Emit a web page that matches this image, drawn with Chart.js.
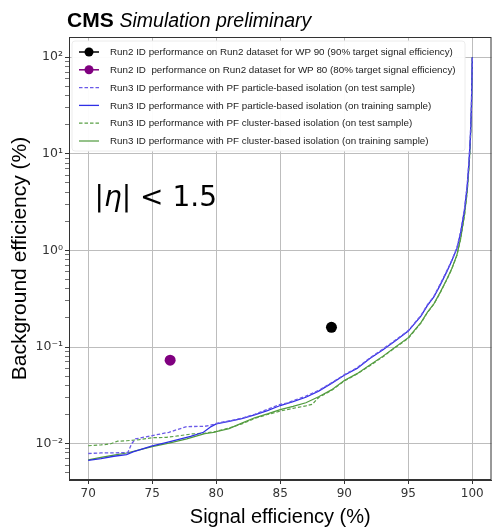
<!DOCTYPE html>
<html>
<head>
<meta charset="utf-8">
<script src="https://cdn.jsdelivr.net/npm/chart.js@4"></script>
<style>
  html, body { margin: 0; padding: 0; background: #fff; }
  #wrap { width: 497px; height: 529px; }
</style>
</head>
<body>
<div id="wrap"><canvas id="roc" width="497" height="529"></canvas></div>
<script>
// Run3 ID, PF particle-based isolation, training sample
const partTrainX = [70, 71, 72, 73, 73.5, 74, 75, 76, 77, 78, 79, 79.6, 80, 81, 82, 83, 84, 85, 86, 87, 88, 89, 90, 91, 92, 93, 94, 95, 96, 96.5, 97, 97.5, 98, 98.4, 98.8, 99.1, 99.4, 99.6, 99.75, 99.85, 99.93, 100];
const partTrainY = [0.0067, 0.0070, 0.0074, 0.0077, 0.0082, 0.0086, 0.0095, 0.0102, 0.0110, 0.0119, 0.0131, 0.0150, 0.0160, 0.0170, 0.0181, 0.0198, 0.0220, 0.0248, 0.0272, 0.0302, 0.0350, 0.0420, 0.0510, 0.0600, 0.0760, 0.0930, 0.1160, 0.1460, 0.2100, 0.2700, 0.3300, 0.4400, 0.6000, 0.7800, 1.05, 1.55, 2.7, 4.6, 8.5, 15, 30, 100];

// Run3 ID, PF particle-based isolation, test sample
const partTestX = [70, 71, 72, 73.1, 73.4, 73.7, 75, 76.3, 77.7, 79.1, 79.8, 80, 81, 82, 83, 84, 85, 85.5, 86, 87, 88, 89, 90, 91, 92, 93, 94, 95, 96, 96.5, 97, 97.5, 98, 98.4, 98.8, 99.1, 99.4, 99.6, 99.75, 99.85, 99.93, 100];
const partTestY = [0.0079, 0.0080, 0.0080, 0.0081, 0.0100, 0.0112, 0.0121, 0.0131, 0.0150, 0.0151, 0.0158, 0.0162, 0.0172, 0.0183, 0.0201, 0.0226, 0.0255, 0.0262, 0.0278, 0.0310, 0.0355, 0.0425, 0.0515, 0.0610, 0.0770, 0.0950, 0.1180, 0.1480, 0.2130, 0.2750, 0.3350, 0.4500, 0.6100, 0.7900, 1.07, 1.58, 2.75, 4.7, 8.7, 15.3, 30.5, 100];

// Run3 ID, PF cluster-based isolation, training sample
const clusTrainX = [70, 71, 72, 73, 74, 75, 76.3, 77.7, 79.1, 79.9, 80, 81, 82, 83, 84, 85, 86, 87, 88, 89, 90, 91, 92, 93, 94, 95, 96, 96.5, 97, 97.5, 98, 98.4, 98.8, 99.1, 99.4, 99.6, 99.75, 99.85, 99.93, 100];
const clusTrainY = [0.0068, 0.0072, 0.0076, 0.0080, 0.0086, 0.0093, 0.0101, 0.0112, 0.0127, 0.0131, 0.0133, 0.0143, 0.0163, 0.0185, 0.0203, 0.0225, 0.0243, 0.0265, 0.0305, 0.0360, 0.0450, 0.0530, 0.0650, 0.0800, 0.1000, 0.1250, 0.1800, 0.2300, 0.2800, 0.3700, 0.5000, 0.6500, 0.90, 1.35, 2.4, 4.1, 7.6, 13.5, 27, 100];

// Run3 ID, PF cluster-based isolation, test sample
const clusTestX = [70, 71, 71.7, 72.3, 73, 74, 75, 76.1, 77, 78.1, 79.1, 80, 81, 82, 83, 84, 85, 86, 87, 87.5, 88, 89, 90, 91, 92, 93, 94, 95, 96, 96.5, 97, 97.5, 98, 98.4, 98.8, 99.1, 99.4, 99.6, 99.75, 99.85, 99.93, 100];
const clusTestY = [0.0095, 0.0097, 0.0099, 0.0106, 0.0107, 0.0110, 0.0115, 0.0116, 0.0120, 0.0126, 0.0128, 0.0134, 0.0145, 0.0160, 0.0182, 0.0200, 0.0217, 0.0232, 0.0246, 0.0255, 0.0300, 0.0355, 0.0445, 0.0525, 0.0640, 0.0790, 0.0990, 0.1230, 0.1780, 0.2280, 0.2780, 0.3650, 0.4950, 0.6400, 0.89, 1.33, 2.35, 4.0, 7.5, 13.3, 26.5, 100];

// Run2 working points
const wp90X = [89.0];
const wp90Y = [0.16];
const wp80X = [76.4];
const wp80Y = [0.073];

// axes
const xTicks = [70, 75, 80, 85, 90, 95, 100];
const yMajor = [0.01, 0.1, 1, 10, 100];
const yMajorLabels = ['10\u207B\u00B2', '10\u207B\u00B9', '10\u2070', '10\u00B9', '10\u00B2'];
const xMin = 68.5, xMax = 101.5;
const yMin = 0.0042, yMax = 162;

const labels = [
  'Run2 ID performance on Run2 dataset for WP 90 (90% target signal efficiency)',
  'Run2 ID  performance on Run2 dataset for WP 80 (80% target signal efficiency)',
  'Run3 ID performance with PF particle-based isolation (on test sample)',
  'Run3 ID performance with PF particle-based isolation (on training sample)',
  'Run3 ID performance with PF cluster-based isolation (on test sample)',
  'Run3 ID performance with PF cluster-based isolation (on training sample)'
];

function pts(xs, ys) {
  return xs.map((x, i) => ({ x: x, y: ys[i] }));
}

// y ticks: decades plus minor 2..9 marks
const yTicks = [];
for (let e = -3; e <= 2; e++) {
  for (let m = 1; m <= 9; m++) {
    const v = +(m * Math.pow(10, e)).toPrecision(3);
    if (v >= yMin && v <= yMax) yTicks.push(v);
  }
}
function isMajor(v) {
  return yMajor.some((d) => Math.abs(v / d - 1) < 1e-6);
}

const GRID = '#bdbdbd';
const AXIS = '#333';
const FONT = '"Liberation Sans", Arial, Helvetica, sans-serif';

const frame = {
  id: 'frame',
  afterDatasetsDraw(chart) {
    const ctx = chart.ctx;
    const a = chart.chartArea;
    const x = chart.scales.x, y = chart.scales.y;
    ctx.save();

    // eta annotation
    let px = x.getPixelForValue(70.5);
    const py = y.getPixelForValue(3.4);
    ctx.fillStyle = '#000';
    ctx.textBaseline = 'middle';
    ctx.textAlign = 'left';
    const parts = [['|', ''], ['\u03B7', 'italic '], ['| < 1.5', '']];
    parts.forEach((p) => {
      ctx.font = p[1] + '28px "DejaVu Sans"';
      ctx.fillText(p[0], px, py);
      px += ctx.measureText(p[0]).width;
    });

    // legend box
    const lx = a.left + 3, ly = a.top + 4, lw = 393, lh = 110;
    ctx.fillStyle = 'rgba(255,255,255,0.95)';
    ctx.strokeStyle = '#ececec';
    ctx.lineWidth = 1;
    ctx.beginPath();
    ctx.roundRect(lx, ly, lw, lh, 3);
    ctx.fill();
    ctx.stroke();

    ctx.font = '9.8px ' + FONT;
    chart.data.datasets.forEach((ds, i) => {
      const cy = a.top + 15 + i * 17.8;
      ctx.strokeStyle = ds.borderColor;
      ctx.lineWidth = ds.borderWidth;
      ctx.setLineDash(ds.borderDash || []);
      ctx.beginPath();
      ctx.moveTo(a.left + 10, cy);
      ctx.lineTo(a.left + 30, cy);
      ctx.stroke();
      ctx.setLineDash([]);
      if (ds.pointRadius > 0) {
        ctx.fillStyle = ds.pointBackgroundColor;
        ctx.beginPath();
        ctx.arc(a.left + 20, cy, 4.5, 0, Math.PI * 2);
        ctx.fill();
      }
      ctx.fillStyle = '#222';
      ctx.fillText(ds.label, a.left + 41, cy + 0.5);
    });
    ctx.restore();
  },
  afterDraw(chart) {
    const ctx = chart.ctx;
    const a = chart.chartArea;
    ctx.save();
    ctx.strokeStyle = AXIS;
    ctx.lineWidth = 1;
    ctx.strokeRect(a.left + 0.5, a.top + 0.5, a.right - a.left - 1, a.bottom - a.top - 1);

    // header
    ctx.fillStyle = '#000';
    ctx.textBaseline = 'alphabetic';
    ctx.textAlign = 'left';
    ctx.font = 'bold 21px ' + FONT;
    ctx.fillText('CMS', 67, 27);
    const w = ctx.measureText('CMS ').width;
    ctx.font = 'italic 19.5px ' + FONT;
    ctx.fillText('Simulation preliminary', 67 + w, 27);
    ctx.restore();
  }
};

const datasets = [
  { label: labels[0], data: pts(wp90X, wp90Y), showLine: false, borderColor: '#000', borderWidth: 1.5,
    pointRadius: 5.5, pointBackgroundColor: '#000', pointBorderWidth: 0 },
  { label: labels[1], data: pts(wp80X, wp80Y), showLine: false, borderColor: '#800080', borderWidth: 1.5,
    pointRadius: 5.5, pointBackgroundColor: '#800080', pointBorderWidth: 0 },
  { label: labels[2], data: pts(partTestX, partTestY), borderColor: '#6a5ae8', borderWidth: 1.3,
    borderDash: [3.5, 2], pointRadius: 0 },
  { label: labels[3], data: pts(partTrainX, partTrainY), borderColor: '#2f2fe6', borderWidth: 1.3,
    pointRadius: 0 },
  { label: labels[4], data: pts(clusTestX, clusTestY), borderColor: '#5aa046', borderWidth: 1.2,
    borderDash: [3.5, 2], pointRadius: 0 },
  { label: labels[5], data: pts(clusTrainX, clusTrainY), borderColor: '#4f9a3c', borderWidth: 1.2,
    pointRadius: 0 }
];

new Chart(document.getElementById('roc').getContext('2d'), {
  type: 'line',
  data: { datasets: datasets },
  options: {
    responsive: false,
    animation: false,
    events: [],
    layout: { padding: { top: 37, right: 1, bottom: 0, left: 0 } },
    elements: { line: { tension: 0, fill: false } },
    plugins: { legend: { display: false }, tooltip: { enabled: false } },
    scales: {
      x: {
        type: 'linear',
        min: xMin,
        max: xMax,
        afterBuildTicks: (s) => { s.ticks = xTicks.map((v) => ({ value: v })); },
        afterFit: (s) => { s.height = 49; },
        ticks: { color: AXIS, padding: 3, font: { family: '"DejaVu Sans"', size: 12 }, maxRotation: 0 },
        grid: { color: GRID, lineWidth: 1, borderDash: [1, 2], tickColor: AXIS, tickLength: 4 },
        border: { display: true, color: AXIS, width: 1 },
        title: { display: true, text: 'Signal efficiency (%)', color: '#000',
                 font: { family: FONT, size: 20 }, padding: { top: 0, bottom: 0 } }
      },
      y: {
        type: 'logarithmic',
        min: yMin,
        max: yMax,
        afterBuildTicks: (s) => { s.ticks = yTicks.map((v) => ({ value: v, major: isMajor(v) })); },
        afterFit: (s) => { s.width = 69; },
        ticks: {
          autoSkip: false,
          color: AXIS,
          padding: 2,
          font: { family: '"DejaVu Sans"', size: 12.5 },
          callback: (v) => {
            const i = yMajor.findIndex((d) => Math.abs(v / d - 1) < 1e-6);
            return i >= 0 ? yMajorLabels[i] : '';
          }
        },
        grid: {
          color: (c) => (c.tick && isMajor(c.tick.value) ? GRID : 'rgba(0,0,0,0)'),
          lineWidth: 1,
          borderDash: [1, 2],
          tickColor: AXIS,
          tickWidth: (c) => (c.tick && isMajor(c.tick.value) ? 1 : 0.7),
          tickLength: 4
        },
        border: { display: true, color: AXIS, width: 1 },
        title: { display: true, text: 'Background efficiency (%)', color: '#000',
                 font: { family: FONT, size: 21 }, padding: { top: 8, bottom: 0 } }
      }
    }
  },
  plugins: [frame]
});
</script>
</body>
</html>
